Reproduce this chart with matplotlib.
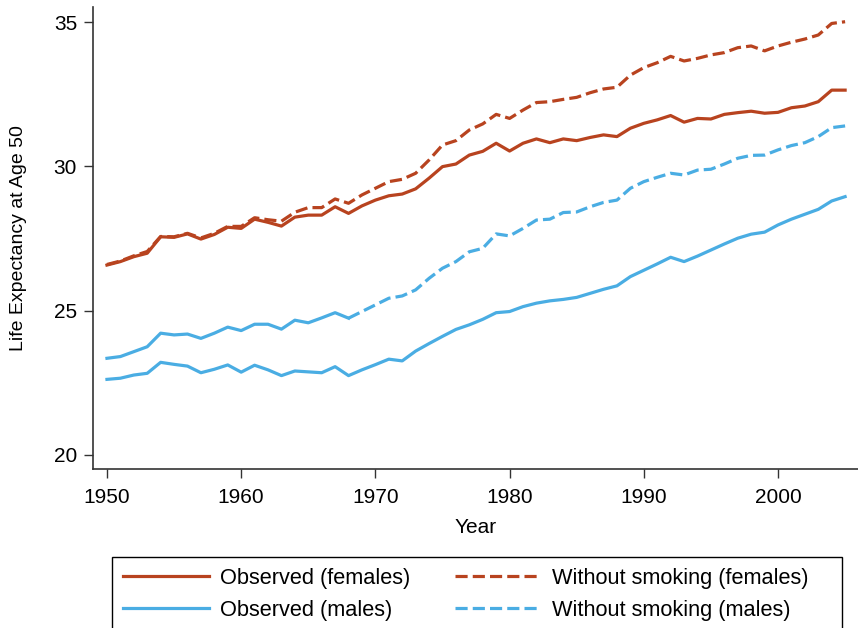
import numpy as np
import matplotlib
matplotlib.use("Agg")
import matplotlib.pyplot as plt
from matplotlib.patches import Rectangle

plt.rcParams['font.family'] = ['Liberation Sans', 'DejaVu Sans']

years = list(range(1950, 2006))

# life expectancy at age 50
fem_obs = [26.58, 26.70, 26.87, 26.99, 27.56, 27.54, 27.66, 27.48, 27.64, 27.89,
           27.85, 28.17, 28.06, 27.93, 28.24, 28.31, 28.31, 28.60, 28.37, 28.63,
           28.83, 28.98, 29.04, 29.22, 29.59, 29.99, 30.08, 30.39, 30.52, 30.80,
           30.53, 30.80, 30.95, 30.82, 30.95, 30.89, 31.00, 31.09, 31.03, 31.32,
           31.49, 31.61, 31.76, 31.53, 31.66, 31.64, 31.80, 31.86, 31.91, 31.84,
           31.87, 32.03, 32.09, 32.24, 32.64, 32.64]
fem_nosmk = [26.60, 26.72, 26.90, 27.05, 27.57, 27.56, 27.68, 27.52, 27.68, 27.92,
             27.92, 28.22, 28.15, 28.10, 28.41, 28.57, 28.57, 28.87, 28.72, 29.01,
             29.24, 29.47, 29.55, 29.76, 30.22, 30.74, 30.89, 31.26, 31.47, 31.80,
             31.66, 31.95, 32.21, 32.24, 32.32, 32.39, 32.55, 32.68, 32.74, 33.16,
             33.42, 33.59, 33.81, 33.65, 33.74, 33.86, 33.94, 34.11, 34.17, 34.00,
             34.17, 34.30, 34.41, 34.55, 34.95, 35.01]
male_obs = [22.62, 22.66, 22.77, 22.83, 23.21, 23.14, 23.08, 22.85, 22.97, 23.12,
            22.87, 23.11, 22.95, 22.75, 22.91, 22.88, 22.85, 23.06, 22.75, 22.95,
            23.13, 23.32, 23.26, 23.60, 23.86, 24.11, 24.35, 24.51, 24.70, 24.93,
            24.97, 25.14, 25.26, 25.34, 25.39, 25.46, 25.60, 25.74, 25.86, 26.18,
            26.40, 26.62, 26.85, 26.70, 26.89, 27.10, 27.31, 27.51, 27.65, 27.72,
            27.97, 28.17, 28.34, 28.51, 28.80, 28.95]
male_nosmk = [23.35, 23.41, 23.58, 23.75, 24.22, 24.16, 24.19, 24.04, 24.22, 24.43,
              24.31, 24.53, 24.53, 24.36, 24.67, 24.58, 24.75, 24.93, 24.74, 24.97,
              25.20, 25.43, 25.51, 25.72, 26.12, 26.47, 26.70, 27.04, 27.16, 27.66,
              27.59, 27.85, 28.14, 28.17, 28.40, 28.42, 28.60, 28.75, 28.83, 29.24,
              29.47, 29.62, 29.76, 29.70, 29.87, 29.90, 30.08, 30.28, 30.38, 30.39,
              30.57, 30.72, 30.82, 31.03, 31.34, 31.40]
split_year = 1968  # males without smoking drawn solid before this year

red = '#b8431f'
blue = '#4aade3'
dash = (3.8, 1.6)

fig = plt.figure(figsize=(8.58, 6.28), dpi=100)
ax = fig.add_axes([93 / 858, 1 - 469 / 628, 1 - 93 / 858, (469 - 7) / 628])

yrs = np.array(years)
k = years.index(split_year) + 1

ax.plot(years, fem_obs, color=red, lw=2.3, label='Observed (females)')
ax.plot(years, male_obs, color=blue, lw=2.3, label='Observed (males)')
ax.plot(years, fem_nosmk, color=red, lw=2.3, dashes=dash,
        label='Without smoking (females)')
ax.plot(yrs[:k], male_nosmk[:k], color=blue, lw=2.3)
ax.plot(yrs[k - 1:], male_nosmk[k - 1:], color=blue, lw=2.3, dashes=dash,
        label='Without smoking (males)')

ax.set_xlim(1948.96, 2005.96)
ax.set_ylim(19.515, 35.52)
ax.set_xticks(range(1950, 2001, 10))
ax.set_yticks([20, 25, 30, 35])
ax.spines['top'].set_visible(False)
ax.spines['right'].set_visible(False)
for s in ['left', 'bottom']:
    ax.spines[s].set_color('#333333')
    ax.spines[s].set_linewidth(1.2)
ax.tick_params(direction='out', length=6.5, width=1.0, color='#333333',
               labelsize=15, pad=5)
ax.tick_params(axis='x', pad=7)
ax.set_xlabel('Year', fontsize=15, labelpad=8)
ax.set_ylabel('Life Expectancy at Age 50', fontsize=14, labelpad=19)

# legend entries without frame; the box is drawn separately so it can be
# wider than the entries and run off the bottom edge, as in the original
leg = fig.legend(loc='upper left', ncol=2, fontsize=15.7,
                 bbox_to_anchor=(112 / 858, 1 - 557 / 628),
                 frameon=False,
                 handlelength=3.95, handletextpad=0.5, columnspacing=2.05,
                 borderpad=0.5, labelspacing=0.5, borderaxespad=0)
fig.patches.append(Rectangle((112 / 858, -0.05), 730 / 858, 0.05 + 1 - 557 / 628,
                             transform=fig.transFigure, fill=False,
                             edgecolor='black', linewidth=1.0))

fig.savefig('out.png', dpi=100)
